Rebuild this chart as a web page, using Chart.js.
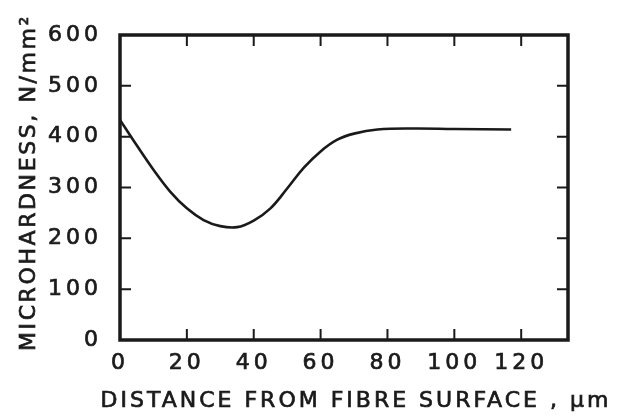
<!DOCTYPE html>
<html>
<head>
<meta charset="utf-8">
<script src="https://cdn.jsdelivr.net/npm/chart.js@4.4.1/dist/chart.umd.min.js"></script>
<style>
  html, body { margin: 0; padding: 0; background: #fff; }
  #wrap { width: 620px; height: 416px; }
</style>
</head>
<body>
<div id="wrap"><canvas id="chart"></canvas></div>
<script>
// distancia desde la superficie de la fibra (µm) y microdureza (N/mm²)
const distance = [0, 5, 10, 15, 20, 25, 30, 35, 40, 45, 50, 55, 60, 65, 70, 77, 88, 100, 117];
const hardness = [433, 383, 335, 292, 259, 236, 224, 222, 235, 259, 298, 339, 371, 394, 406, 414, 416, 415, 414];

const xTicks = [0, 20, 40, 60, 80, 100, 120];
const yTicks = [0, 100, 200, 300, 400, 500, 600];

const xTitle = 'DISTANCE FROM FIBRE SURFACE , \u00b5m';
const yTitle = 'MICROHARDNESS, N/mm\u00b2';

const ink = '#1a1a1a';
const family = 'DejaVu Sans';

// texto con un trazo fino encima para engrosarlo como el rotulado original
function drawLabel(ctx, text, spacing) {
    ctx.letterSpacing = spacing;
    ctx.font = '22px "DejaVu Sans"';
    ctx.fillStyle = ink;
    ctx.strokeStyle = ink;
    ctx.lineWidth = 0.7;
    ctx.fillText(text, 0, 0);
    ctx.strokeText(text, 0, 0);
}

// marco grueso, marcas hacia dentro y títulos de los ejes
const framePlugin = {
    id: 'frame',
    beforeDraw(chart) {
        chart.ctx.letterSpacing = '4px';
    },
    afterDraw(chart) {
        const { ctx, chartArea: a, scales } = chart;
        const len = 11;
        ctx.save();
        ctx.strokeStyle = ink;
        ctx.lineWidth = 2;
        ctx.beginPath();
        yTicks.forEach(v => {
            const y = scales.y.getPixelForValue(v);
            ctx.moveTo(a.left, y); ctx.lineTo(a.left + len, y);
            ctx.moveTo(a.right, y); ctx.lineTo(a.right - len, y);
        });
        xTicks.forEach(v => {
            const x = scales.x.getPixelForValue(v);
            ctx.moveTo(x, a.bottom); ctx.lineTo(x, a.bottom - len);
            ctx.moveTo(x, a.top); ctx.lineTo(x, a.top + len);
        });
        ctx.stroke();
        ctx.lineWidth = 3.5;
        ctx.strokeRect(a.left, a.top, a.right - a.left, a.bottom - a.top);
        ctx.restore();

        ctx.save();
        ctx.textAlign = 'center';
        ctx.textBaseline = 'alphabetic';
        ctx.translate((a.left + a.right) / 2 + 12, a.bottom + 67);
        drawLabel(ctx, xTitle, '3px');
        ctx.restore();

        ctx.save();
        ctx.textAlign = 'center';
        ctx.textBaseline = 'alphabetic';
        ctx.translate(a.left - 85, (a.top + a.bottom) / 2 - 5);
        ctx.rotate(-Math.PI / 2);
        drawLabel(ctx, yTitle, '2.6px');
        ctx.restore();
    }
};

const ctx = document.getElementById('chart').getContext('2d');
new Chart(ctx, {
    type: 'line',
    data: {
        datasets: [{
            data: distance.map((d, i) => ({ x: d, y: hardness[i] })),
            borderColor: ink,
            borderWidth: 2.6,
            pointRadius: 0,
            fill: false,
            tension: 0.4
        }]
    },
    options: {
        responsive: true,
        maintainAspectRatio: false,
        animation: false,
        layout: { padding: { top: 35, right: 52, left: 0, bottom: 0 } },
        plugins: {
            legend: { display: false },
            tooltip: { enabled: false }
        },
        scales: {
            x: {
                type: 'linear',
                min: 0,
                max: 134,
                afterFit: s => { s.height = 76; },
                afterBuildTicks: s => { s.ticks = xTicks.map(v => ({ value: v })); },
                grid: { display: false },
                border: { display: false },
                ticks: {
                    color: ink,
                    padding: 2,
                    maxRotation: 0,
                    textStrokeColor: ink,
                    textStrokeWidth: 0.7,
                    font: { family: family, size: 22 }
                },
                title: { display: false }
            },
            y: {
                min: 0,
                max: 600,
                afterFit: s => { s.width = 120; },
                afterBuildTicks: s => { s.ticks = yTicks.map(v => ({ value: v })); },
                grid: { display: false },
                border: { display: false },
                ticks: {
                    color: ink,
                    padding: 10,
                    textStrokeColor: ink,
                    textStrokeWidth: 0.7,
                    font: { family: family, size: 22 }
                },
                title: { display: false }
            }
        }
    },
    plugins: [framePlugin]
});
</script>
</body>
</html>
